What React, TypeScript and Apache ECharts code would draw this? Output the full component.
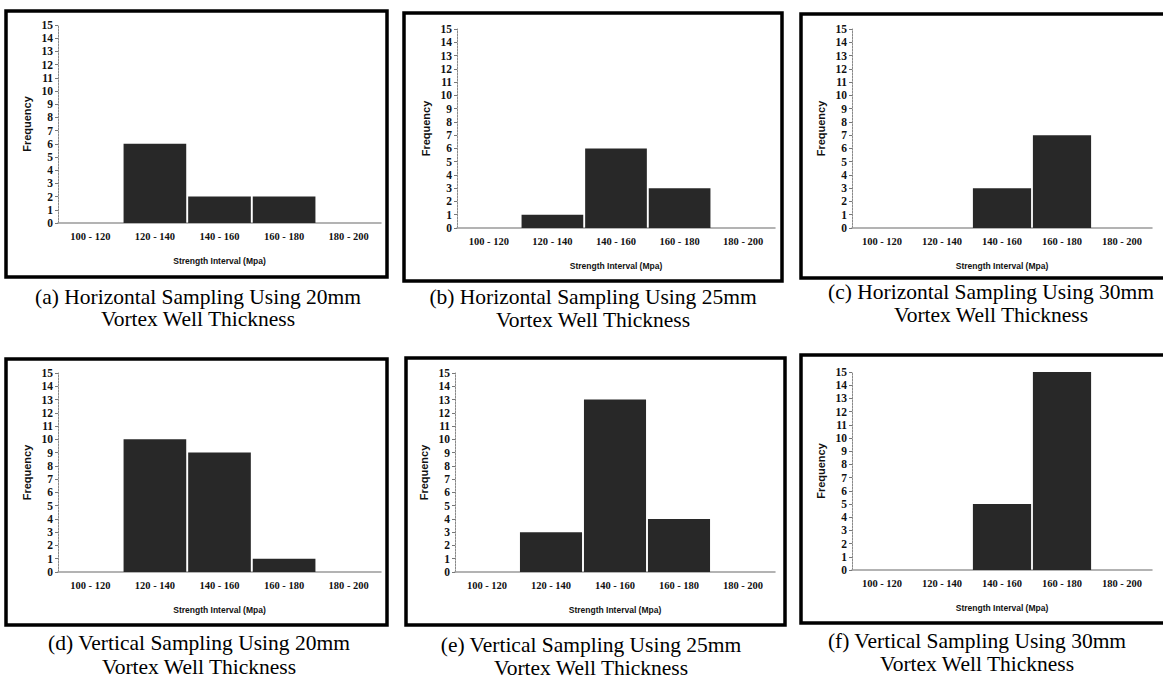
import React, { useEffect, useRef } from "react";
import * as echarts from "echarts";

// ---- data ----
const categories = ["100 - 120", "120 - 140", "140 - 160", "160 - 180", "180 - 200"];
const yMin = 0;
const yMax = 15;
const yStep = 1;
const xAxisTitle = "Strength Interval (Mpa)";
const yAxisTitle = "Frequency";

const horizontal20 = [0, 6, 2, 2, 0];
const horizontal25 = [0, 1, 6, 3, 0];
const horizontal30 = [0, 0, 3, 7, 0];
const vertical20 = [0, 10, 9, 1, 0];
const vertical25 = [0, 3, 13, 4, 0];
const vertical30 = [0, 0, 5, 15, 0];

const captionLine1 = [
  "(a) Horizontal Sampling Using 20mm",
  "(b) Horizontal Sampling Using 25mm",
  "(c) Horizontal Sampling Using 30mm",
  "(d) Vertical Sampling Using 20mm",
  "(e) Vertical Sampling Using 25mm",
  "(f) Vertical Sampling Using 30mm",
];
const captionLine2 = "Vortex Well Thickness";

const seriesData = [horizontal20, horizontal25, horizontal30, vertical20, vertical25, vertical30];

// ---- layout (positions only) ----
const panels = [
  { grid: { left: 58, top: 25, width: 323, height: 198 }, box: { x: 6, y: 11, w: 381, h: 266 }, cap: { x: 198, y1: 297, y2: 319 } },
  { grid: { left: 457, top: 29, width: 318, height: 199 }, box: { x: 404, y: 13, w: 378, h: 268 }, cap: { x: 593, y1: 297, y2: 320 } },
  { grid: { left: 852, top: 29, width: 300, height: 199 }, box: { x: 801, y: 14, w: 370, h: 264 }, cap: { x: 991, y1: 292, y2: 315 } },
  { grid: { left: 58, top: 373, width: 323, height: 199 }, box: { x: 6, y: 359, w: 381, h: 266 }, cap: { x: 199, y1: 643, y2: 667 } },
  { grid: { left: 455, top: 373, width: 320, height: 199 }, box: { x: 406, y: 358, w: 379, h: 267 }, cap: { x: 591, y1: 645, y2: 668 } },
  { grid: { left: 852, top: 372, width: 300, height: 198 }, box: { x: 801, y: 355, w: 370, h: 268 }, cap: { x: 977, y1: 641, y2: 664 } },
];

export default function App() {
  const ref = useRef<HTMLDivElement>(null);

  useEffect(() => {
    if (!ref.current) return;
    const chart = echarts.init(ref.current, undefined, { renderer: "svg" });

    const grids = panels.map((p) => ({ ...p.grid, containLabel: false }));
    const xAxes = panels.map((_, i) => ({
      type: "category",
      gridIndex: i,
      data: categories,
      name: xAxisTitle,
      nameLocation: "middle",
      nameGap: 33,
      nameTextStyle: { fontFamily: "Liberation Sans", fontWeight: "bold", fontSize: 8.5, color: "#111" },
      axisLine: { show: true, lineStyle: { color: "#9a9a9a", width: 1.5 } },
      axisTick: { show: false },
      axisLabel: { fontFamily: "Liberation Serif", fontWeight: "bold", fontSize: 10.5, color: "#111", margin: 8, interval: 0 },
      splitLine: { show: false },
    }));
    const yAxes = panels.map((_, i) => ({
      type: "value",
      gridIndex: i,
      min: yMin,
      max: yMax,
      interval: yStep,
      name: yAxisTitle,
      nameLocation: "middle",
      nameGap: 26,
      nameTextStyle: { fontFamily: "Liberation Sans", fontWeight: "bold", fontSize: 11, color: "#111" },
      axisLine: { show: true, lineStyle: { color: "#8a8a8a", width: 1, type: [2, 1] } },
      axisTick: { show: true, inside: false, length: 3, lineStyle: { color: "#777" } },
      axisLabel: { fontFamily: "Liberation Serif", fontWeight: "bold", fontSize: 11.5, color: "#111", margin: 5 },
      splitLine: { show: false },
    }));
    const series = seriesData.map((d, i) => ({
      type: "bar",
      xAxisIndex: i,
      yAxisIndex: i,
      data: d,
      barCategoryGap: "3%",
      itemStyle: { color: "#282828" },
    }));

    const graphics: any[] = [];
    panels.forEach((p, i) => {
      graphics.push({
        type: "rect",
        shape: { x: p.box.x, y: p.box.y, width: p.box.w, height: p.box.h },
        style: { fill: "none", stroke: "#000", lineWidth: 3.5 },
        silent: true,
      });
      [captionLine1[i], captionLine2].forEach((t, k) => {
        graphics.push({
          type: "text",
          x: p.cap.x,
          y: k === 0 ? p.cap.y1 : p.cap.y2,
          style: {
            text: t,
            fontFamily: "Liberation Serif",
            fontSize: 21.5,
            fill: "#000",
            align: "center",
            verticalAlign: "middle",
          },
        });
      });
    });

    chart.setOption({
      animation: false,
      backgroundColor: "#ffffff",
      grid: grids,
      xAxis: xAxes,
      yAxis: yAxes,
      series,
      graphic: graphics,
    } as any);

    return () => chart.dispose();
  }, []);

  return (
    <div
      ref={ref}
      style={{ position: "fixed", left: 0, top: 0, width: 1163, height: 682, background: "#fff" }}
    />
  );
}
